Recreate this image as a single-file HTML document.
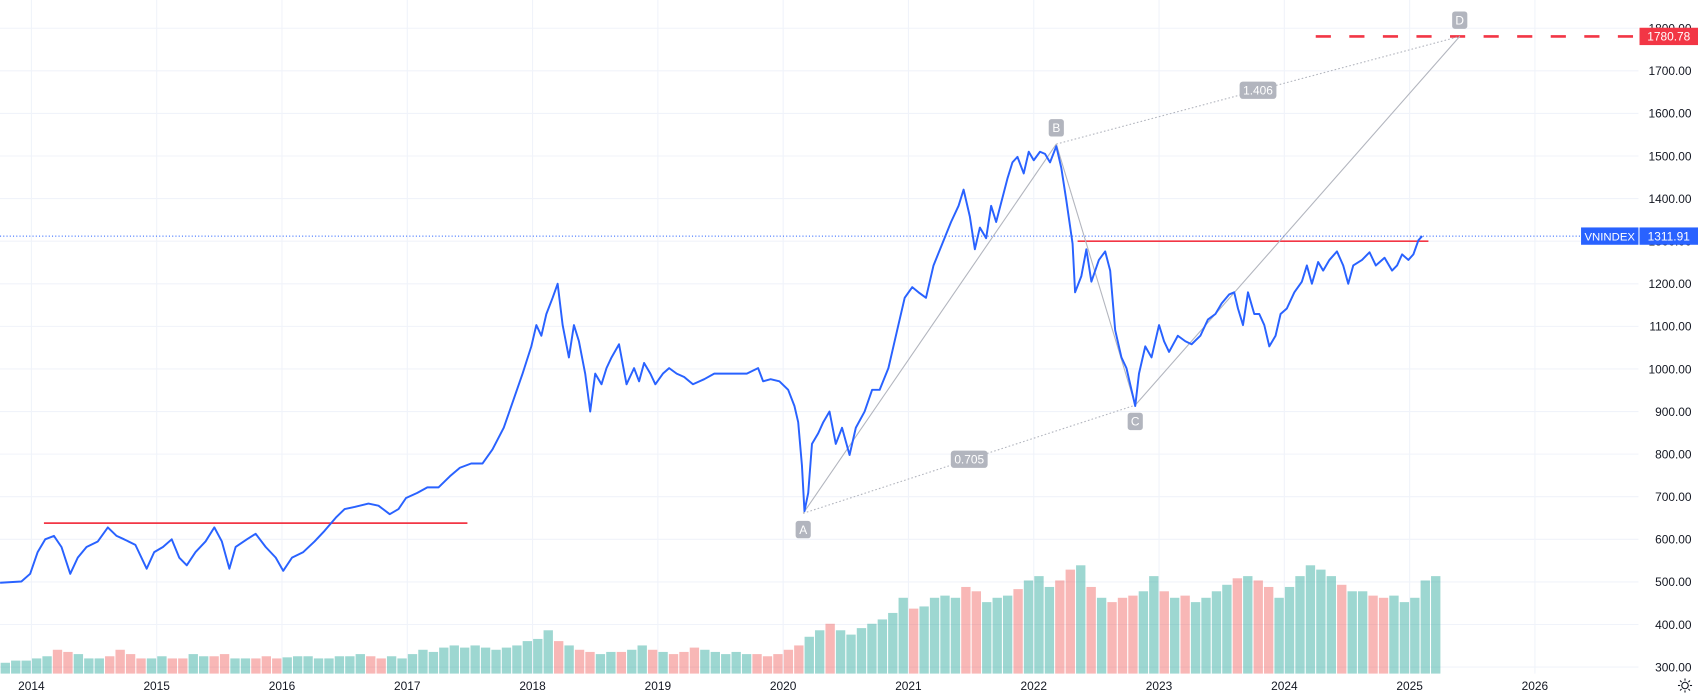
<!DOCTYPE html>
<html><head><meta charset="utf-8">
<style>
html,body{margin:0;padding:0;background:#fff;}
svg{display:block;font-family:"Liberation Sans",sans-serif;}
</style></head>
<body>
<svg id="chart" width="1698" height="697" viewBox="0 0 1568 643.6" xmlns="http://www.w3.org/2000/svg">
<g id="grid"></g>
<g id="vol"></g>
<g id="ann"></g>
<g id="price"></g>
<g id="axes"></g>
</svg>
<script>
const dates = [2013.75,2013.92,2013.99,2014.05,2014.11,2014.18,2014.24,2014.31,2014.37,2014.44,2014.53,2014.61,2014.68,2014.74,2014.83,2014.92,2014.98,2015.05,2015.12,2015.18,2015.24,2015.31,2015.39,2015.46,2015.52,2015.58,2015.63,2015.72,2015.79,2015.87,2015.95,2016.01,2016.08,2016.17,2016.26,2016.34,2016.43,2016.50,2016.58,2016.69,2016.77,2016.86,2016.93,2016.99,2017.08,2017.16,2017.25,2017.34,2017.42,2017.51,2017.60,2017.68,2017.77,2017.86,2017.92,2017.99,2018.03,2018.07,2018.11,2018.16,2018.20,2018.24,2018.29,2018.33,2018.37,2018.42,2018.46,2018.50,2018.55,2018.59,2018.63,2018.69,2018.75,2018.81,2018.85,2018.89,2018.94,2018.98,2019.04,2019.09,2019.15,2019.21,2019.28,2019.37,2019.45,2019.54,2019.63,2019.71,2019.80,2019.84,2019.90,2019.97,2020.04,2020.09,2020.12,2020.15,2020.17,2020.20,2020.23,2020.28,2020.32,2020.37,2020.42,2020.47,2020.53,2020.58,2020.65,2020.71,2020.77,2020.84,2020.91,2020.97,2021.03,2021.08,2021.14,2021.20,2021.27,2021.34,2021.40,2021.44,2021.49,2021.53,2021.57,2021.62,2021.66,2021.70,2021.79,2021.83,2021.87,2021.92,2021.96,2022.00,2022.05,2022.09,2022.13,2022.18,2022.22,2022.26,2022.31,2022.33,2022.38,2022.42,2022.46,2022.52,2022.57,2022.61,2022.65,2022.70,2022.74,2022.78,2022.81,2022.84,2022.89,2022.94,2023.00,2023.04,2023.08,2023.15,2023.21,2023.26,2023.33,2023.39,2023.45,2023.50,2023.56,2023.60,2023.63,2023.67,2023.71,2023.76,2023.80,2023.84,2023.88,2023.93,2023.97,2024.02,2024.08,2024.14,2024.18,2024.22,2024.27,2024.31,2024.36,2024.42,2024.47,2024.51,2024.55,2024.62,2024.68,2024.73,2024.80,2024.86,2024.90,2024.94,2024.99,2025.03,2025.07,2025.10];
const prices = [498,501,519,570,600,608,582,519,557,582,595,628,608,600,587,531,570,582,600,557,539,570,595,628,595,531,582,600,613,582,557,526,557,570,595,620,651,671,676,684,679,659,671,697,709,722,722,748,768,778,778,811,862,938,989,1053,1103,1078,1129,1167,1200,1103,1027,1103,1065,989,900,989,964,1002,1027,1058,964,1002,971,1014,989,964,989,1002,989,981,964,976,989,989,989,989,1002,971,976,971,951,913,875,773,666,709,824,849,875,900,824,862,798,862,900,951,951,1002,1091,1167,1192,1180,1167,1243,1294,1345,1383,1421,1358,1281,1332,1307,1383,1345,1447,1485,1498,1459,1510,1490,1510,1505,1485,1523,1472,1396,1294,1180,1218,1281,1205,1256,1276,1231,1091,1027,1002,951,913,989,1053,1027,1103,1065,1040,1078,1065,1058,1078,1116,1129,1154,1175,1180,1142,1103,1180,1129,1129,1103,1053,1078,1129,1142,1180,1205,1243,1200,1251,1231,1256,1276,1243,1200,1243,1256,1274,1243,1261,1231,1243,1269,1256,1269,1302,1312];
const volStart = 2013.75;
const volumes = [10,12,12, 14,16,22,20,18,14,14,16,22,18,14,14, 16,14,14,18,16,16,18,14,14,14,16,14, 15,16,16,14,14,16,16,18,16,14,16,14, 18,22,20,24,26,24,26,24,22,24,26,30, 32,40,30,26,22,20,18,20,20,22,26,22, 20,18,20,24,22,20,18,20,18,18,16,18, 22,26,34,40,46,40,36,42,46,50,56,70, 60,62,70,72,70,80,76,66,70,72,78,86, 90,80,86,96,100,80,70,66,70,72,76,90, 76,70,72,66,70,76,82,88,90,86,80,70, 80,90,100,96,90,82,76,76,72,70,72,66, 70,86,90];
const priceTicks = [300,400,500,600,700,800,900,1000,1100,1200,1300,1400,1500,1600,1700,1800];
const yearTicks = [2014,2015,2016,2017,2018,2019,2020,2021,2022,2023,2024,2025,2026];
const abcdDates = [2020.16,2022.18,2022.81,2025.40];
const abcdValues = [661,1528,915,1780.78];
const abcdNames = ["A","B","C","D"];
const ratios = ["0.705","1.406"];
const lastPrice = 1311.91;
const target = 1780.78;
const lowRes = {from:2014.10,to:2017.48,value:638};
const highRes = {from:2022.35,to:2025.15,value:1300};

const NS="http://www.w3.org/2000/svg";
const X = t => 29 + (t-2014)*115.7;
const Y = v => 616 - (v-300)*0.3933;
const VY = v => 622 - v;
const PLOT_R = 1513;
function mk(tag, attrs, parent, text){
  const e=document.createElementNS(NS,tag);
  for(const k in attrs) e.setAttribute(k,attrs[k]);
  if(text!==undefined) e.textContent=text;
  parent.appendChild(e); return e;
}
const grid=document.getElementById('grid'), vol=document.getElementById('vol'),
      ann=document.getElementById('ann'), price=document.getElementById('price'),
      axes=document.getElementById('axes');

priceTicks.forEach(v=>{
  const l=mk('line',{x1:0,x2:PLOT_R,y1:Y(v),y2:Y(v),stroke:'#f0f3fa','stroke-width':1},grid);
  
  
  const t=mk('text',{x:1562,y:Y(v)+4,'text-anchor':'end','font-size':11,fill:'#131722'},axes,v.toFixed(2));
  
  
});
yearTicks.forEach(yr=>{
  const l=mk('line',{x1:X(yr),x2:X(yr),y1:0,y2:622,stroke:'#f0f3fa','stroke-width':1},grid);
  
  
  const t=mk('text',{x:X(yr),y:637,'text-anchor':'middle','font-size':11,fill:'#131722'},axes,String(yr));
  
  
});

function priceAt(t){
  if(t<=dates[0]) return prices[0];
  for(let i=1;i<dates.length;i++){ if(dates[i]>=t){const f=(t-dates[i-1])/(dates[i]-dates[i-1]);return prices[i-1]+f*(prices[i]-prices[i-1]);} }
  return prices[prices.length-1];
}
volumes.forEach((v,i)=>{
  const t0=volStart+i/12, t1=t0+1/12;
  const up=priceAt(t1)>=priceAt(t0);
  const x0=X(t0), w=X(t1)-x0;
  const r=mk('rect',{x:x0+0.5,y:VY(v),width:w-1,height:622-VY(v),fill:up?'rgba(38,166,154,0.45)':'rgba(239,83,80,0.42)'},vol);
  
  
});

let e=mk('line',{x1:X(lowRes.from),x2:X(lowRes.to),y1:Y(lowRes.value),y2:Y(lowRes.value),stroke:'#f23645','stroke-width':1.6},ann);
 
e=mk('line',{x1:X(highRes.from),x2:X(highRes.to),y1:Y(highRes.value),y2:Y(highRes.value),stroke:'#f23645','stroke-width':1.6},ann);
 
e=mk('line',{x1:1215,x2:PLOT_R-3,y1:Y(target),y2:Y(target),stroke:'#f23645','stroke-width':2.4,'stroke-dasharray':'14 17'},ann);
 

const P=abcdDates.map((d,i)=>[X(d),Y(abcdValues[i])]);
[[0,1],[1,2],[2,3]].forEach(([a,b])=>{
  const l=mk('line',{x1:P[a][0],y1:P[a][1],x2:P[b][0],y2:P[b][1],stroke:'#b2b5be','stroke-width':1},ann);
   
});
[[0,2],[1,3]].forEach(([a,b],k)=>{
  const l=mk('line',{x1:P[a][0],y1:P[a][1],x2:P[b][0],y2:P[b][1],stroke:'#b2b5be','stroke-width':1,'stroke-dasharray':'1.5 2'},ann);
   
  const mx=(P[a][0]+P[b][0])/2, my=(P[a][1]+P[b][1])/2;
  const r=mk('rect',{x:mx-17,y:my-8,width:34,height:16,rx:3,fill:'#b2b5be'},ann);
   
  const t=mk('text',{x:mx,y:my+4,'text-anchor':'middle','font-size':11,fill:'#fff'},ann,ratios[k]);
   
});
P.forEach((p,i)=>{
  const below=(i%2===0 && i!==3)? 1 : -1;
  const cy=p[1]+below*15;
  const r=mk('rect',{x:p[0]-7,y:cy-8,width:14,height:16,rx:2.5,fill:'#b2b5be'},ann);
   
  const t=mk('text',{x:p[0],y:cy+4,'text-anchor':'middle','font-size':11,fill:'#fff'},ann,abcdNames[i]);
   
});

e=mk('line',{x1:0,x2:1460,y1:Y(lastPrice),y2:Y(lastPrice),stroke:'#2962ff','stroke-width':1,'stroke-dasharray':'1 2'},ann);
 

const pl=mk('polyline',{points:dates.map((d,i)=>X(d)+','+Y(prices[i])).join(' '),fill:'none',stroke:'#2962ff','stroke-width':1.8,'stroke-linejoin':'round'},price);



e=mk('rect',{x:1514,y:Y(target)-8,width:54,height:16,fill:'#f23645'},axes);
 
e=mk('text',{x:1541,y:Y(target)+4,'text-anchor':'middle','font-size':11,fill:'#fff'},axes,target.toFixed(2));
 
e=mk('rect',{x:1460,y:Y(lastPrice)-8,width:53,height:16,fill:'#2962ff'},axes);
 
e=mk('text',{x:1486.5,y:Y(lastPrice)+4,'text-anchor':'middle','font-size':10.5,fill:'#fff'},axes,'VNINDEX');
 
e=mk('rect',{x:1514,y:Y(lastPrice)-8,width:54,height:16,fill:'#2962ff'},axes);
 
e=mk('text',{x:1541,y:Y(lastPrice)+4,'text-anchor':'middle','font-size':11,fill:'#fff'},axes,lastPrice.toFixed(2));
 
const g=mk('g',{transform:'translate(1556,633)',stroke:'#131722','stroke-width':1,fill:'none'},axes);


mk('circle',{cx:0,cy:0,r:3},g);
for(let k=0;k<8;k++){const a=k*Math.PI/4;mk('line',{x1:4.5*Math.cos(a),y1:4.5*Math.sin(a),x2:6.5*Math.cos(a),y2:6.5*Math.sin(a)},g);}
</script>
</body></html>
